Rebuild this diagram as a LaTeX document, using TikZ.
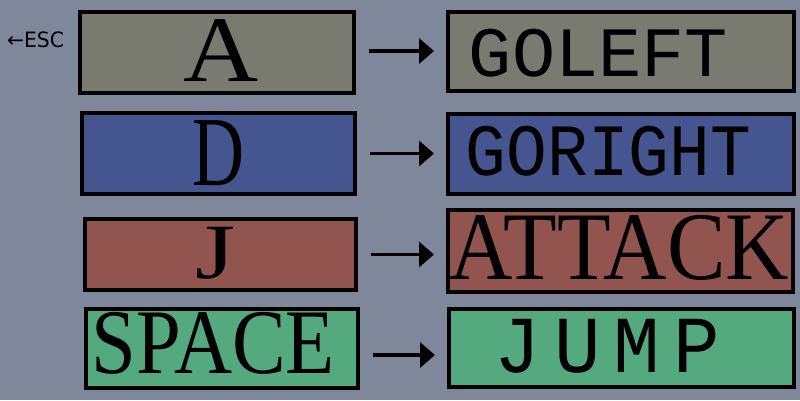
\documentclass[tikz,border=0pt]{standalone}
\usepackage{fontspec}
\setmainfont{Liberation Serif}
\newfontfamily\monof{Liberation Mono}
\newfontfamily\sansf{DejaVu Sans}
\usetikzlibrary{arrows.meta}
\definecolor{bgc}{HTML}{7F889B}
\definecolor{grayk}{HTML}{797A70}
\definecolor{bluek}{HTML}{44558F}
\definecolor{redk}{HTML}{92544F}
\definecolor{greenk}{HTML}{55A97E}
\begin{document}
\begin{tikzpicture}[x=1pt,y=-1pt,
  keybox/.style={draw=black, line width=4pt, inner sep=0pt},
  lbl/.style={inner sep=0pt, outer sep=0pt},
  arr/.style={line width=3.5pt, -{Triangle[length=15pt,width=25pt]}, shorten <=13pt, shorten >=12pt}]
\useasboundingbox (0,0) rectangle (800,400);
\fill[bgc] (0,0) rectangle (800,400);

% left keys
\node[keybox, fill=grayk, minimum width=274pt, minimum height=81pt] (a) at (217,52.5) {};
\node[keybox, fill=bluek, minimum width=273pt, minimum height=81pt] (d) at (218.5,153.5) {};
\node[keybox, fill=redk, minimum width=271pt, minimum height=71pt] (j) at (220.5,254.5) {};
\node[keybox, fill=greenk, minimum width=272pt, minimum height=79pt] (sp) at (222,348.5) {};
% right actions
\node[keybox, fill=grayk, minimum width=346pt, minimum height=79pt] (gl) at (621,51.5) {};
\node[keybox, fill=bluek, minimum width=346pt, minimum height=80pt] (gr) at (621,154) {};
\node[keybox, fill=redk, minimum width=345pt, minimum height=82pt] (at) at (620.5,251) {};
\node[keybox, fill=greenk, minimum width=345pt, minimum height=78pt] (ju) at (621.5,348) {};

% labels
\node[lbl] (ta) at (221,50) {\resizebox*{75pt}{62pt}{A}};
\node[lbl] (td) at (219,153.5) {\resizebox*{52pt}{65pt}{D}};
\node[lbl] (tj) at (216,253) {\resizebox*{40pt}{52pt}{J}};
\node[lbl] (tsp) at (213.5,343) {\resizebox*{243pt}{62pt}{SPACE}};
\node[lbl] (tgl) at (598.5,53) {\resizebox*{259pt}{48pt}{\monof GOLEFT}};
\node[lbl] (tgr) at (608.5,151) {\resizebox*{285pt}{50pt}{\monof GORIGHT}};
\node[lbl] (tat) at (619.5,247.5) {\resizebox*{339pt}{65pt}{ATTACK}};
\node[lbl] (tju) at (607.5,346) {\resizebox*{225pt}{54pt}{\monof J\,U\,M\,P}};
\node[lbl] (esc) at (35.5,40) {\resizebox*{57pt}{16pt}{\sansf ←ESC}};

% arrows
\draw[arr] ([yshift=1.5pt]a.east) -- ([yshift=1.5pt]a.east -| gl.west);
\draw[arr] (d.east) -- (d.east -| gr.west);
\draw[arr] (j.east) -- (j.east -| at.west);
\draw[arr] ([yshift=-6.5pt]sp.east) -- ([yshift=-6.5pt]sp.east -| ju.west);
\end{tikzpicture}
\end{document}
